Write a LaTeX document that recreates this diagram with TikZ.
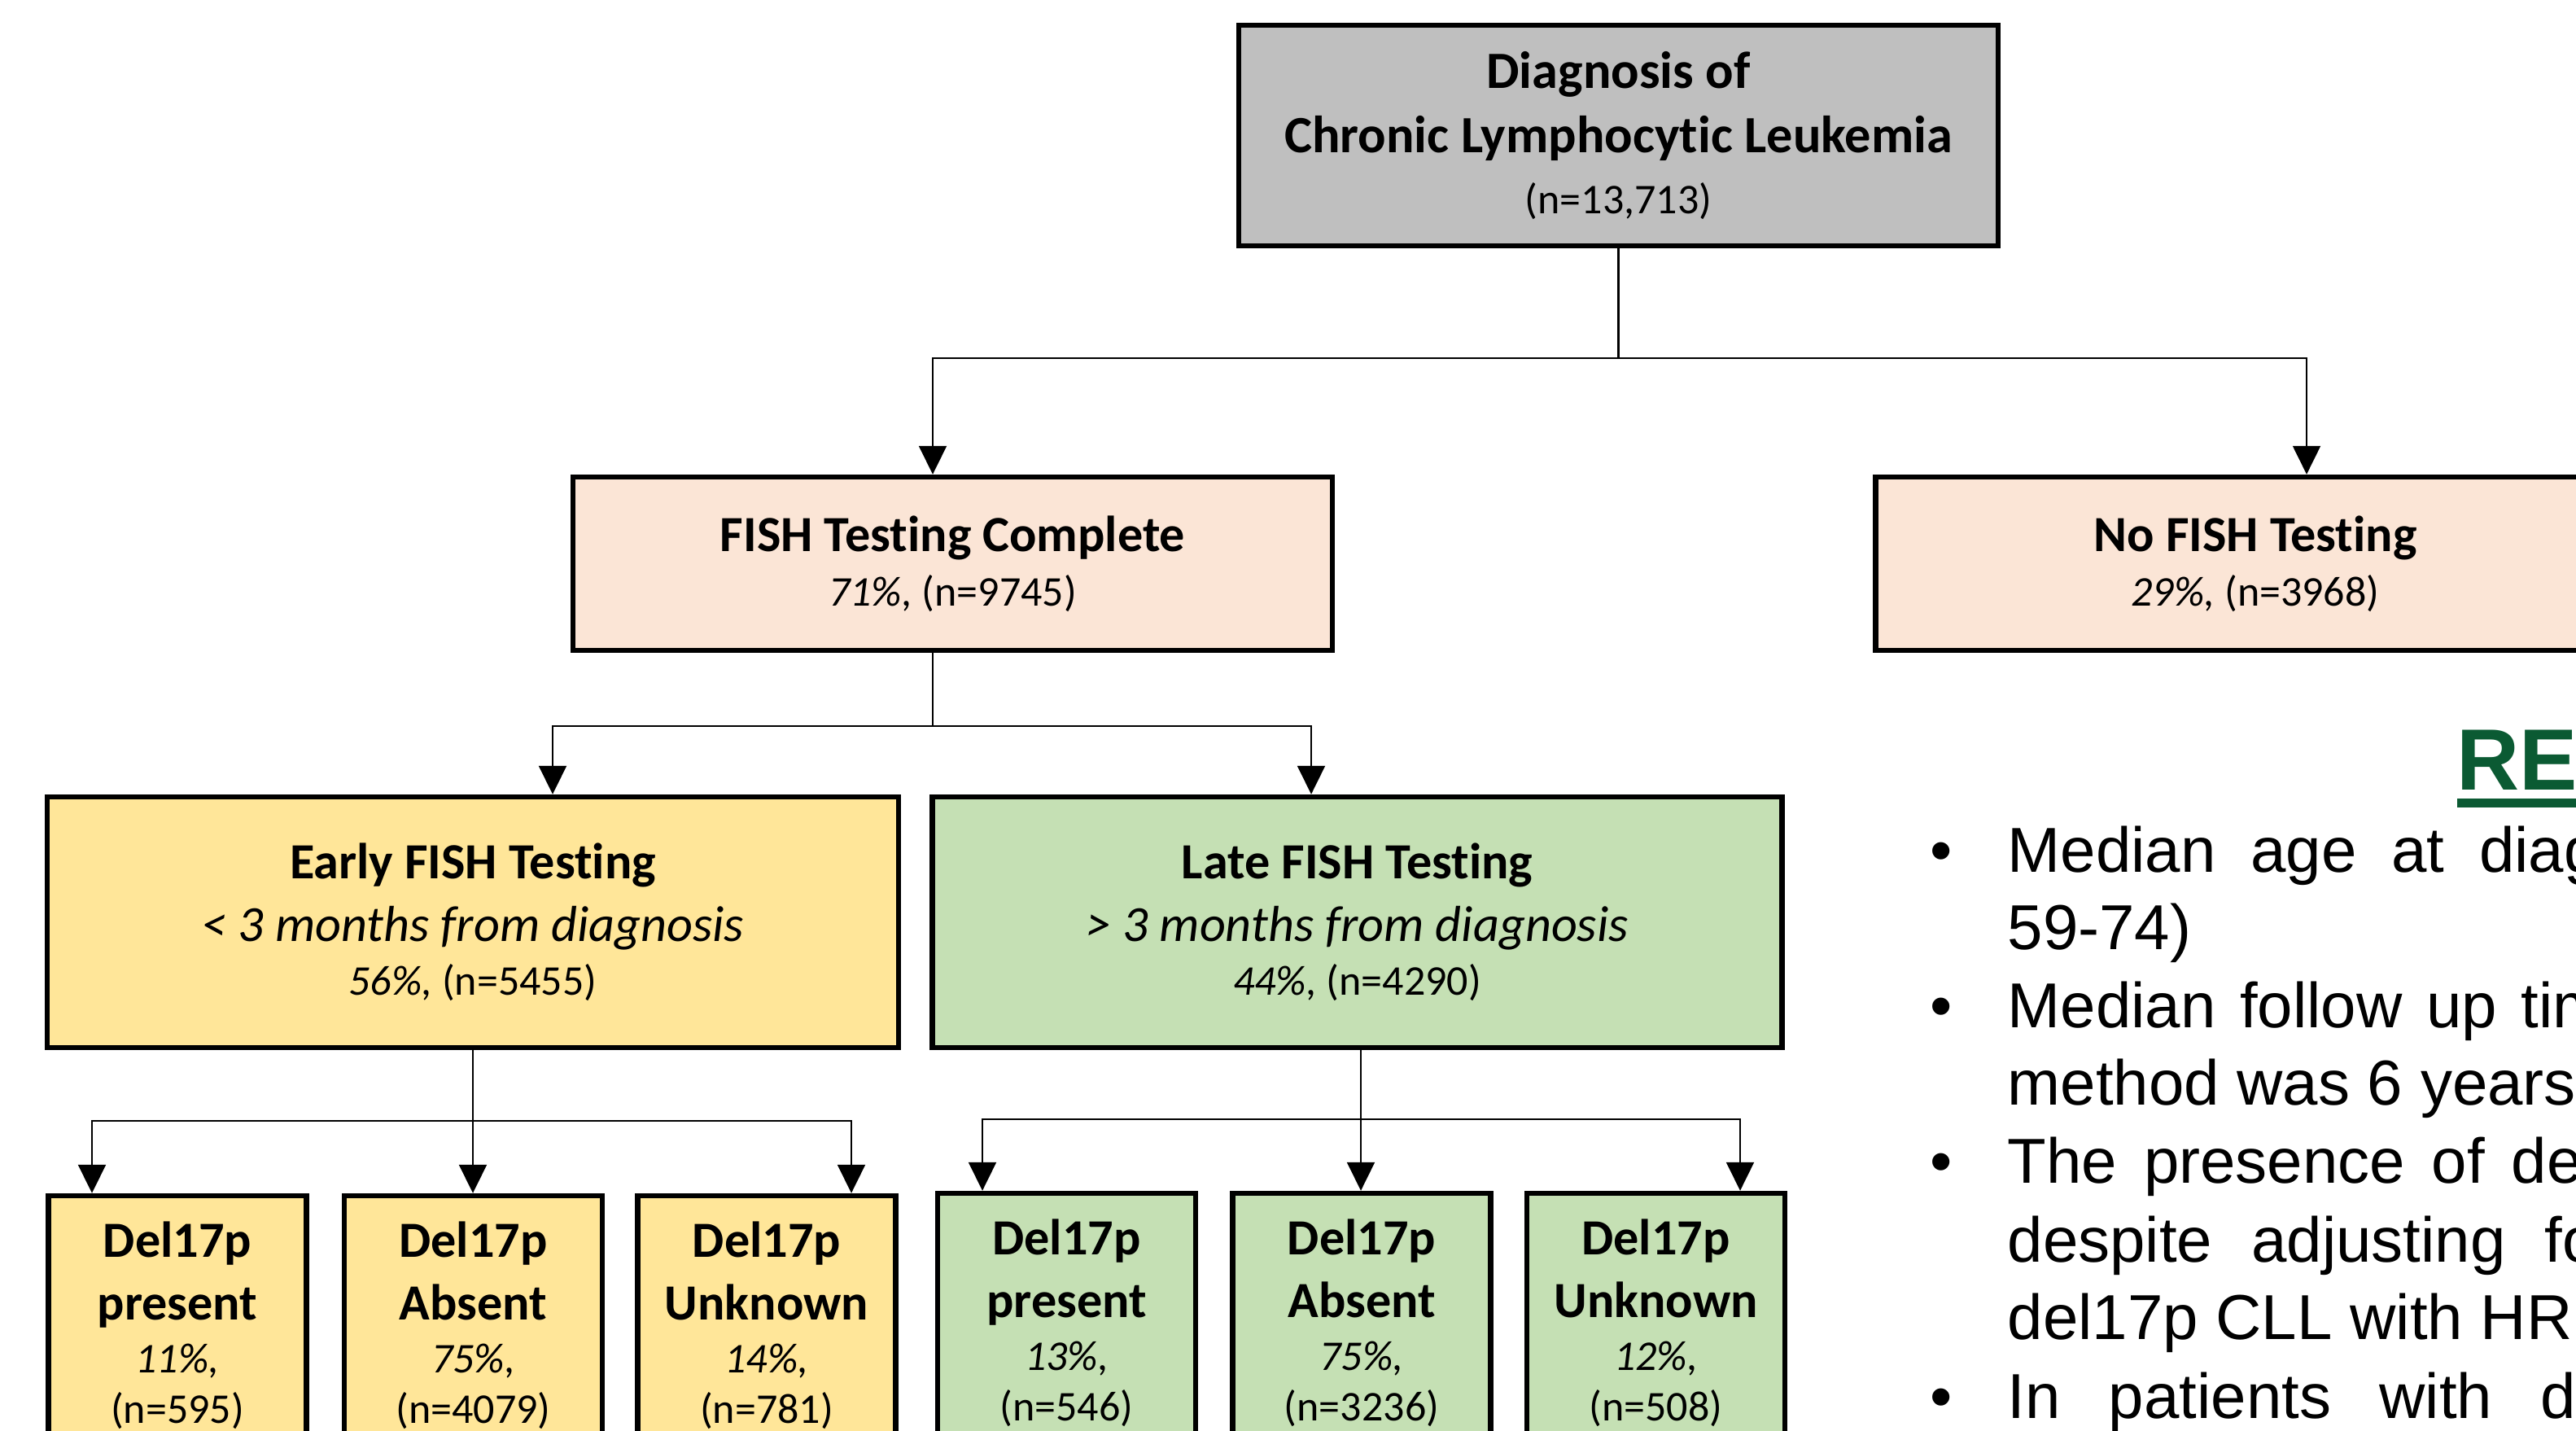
\documentclass[tikz,border=0pt]{standalone}
\usepackage{fontspec}
\setmainfont{Carlito}[Ligatures=NoCommon]
\newfontfamily\arialfont{Liberation Sans}
\usepackage{tikz}
\usetikzlibrary{positioning,arrows.meta}
\definecolor{greybox}{HTML}{BFBFBF}
\definecolor{peach}{HTML}{FBE5D6}
\definecolor{earlyfill}{HTML}{FFE699}
\definecolor{latefill}{HTML}{C5E0B4}
\definecolor{resgreen}{HTML}{0B5A33}
\newcommand{\hdsize}{\fontsize{17.7pt}{21.9pt}\selectfont}
\newcommand{\topsize}{\fontsize{18.3pt}{22.6pt}\selectfont}
\newcommand{\smsize}{\fontsize{14.8pt}{17pt}\selectfont}

\begin{document}
\begin{tikzpicture}[
    box/.style={rectangle, draw=black, line width=0.065cm, inner sep=0pt, align=center, font=\hdsize},
    delbox/.style={box, minimum width=3.17cm, minimum height=3.18cm},
    conn/.style={line width=0.6pt, black},
    arrow/.style={conn, -{Triangle[length=0.35cm, width=0.34cm]}},
    bodytext/.style={anchor=base west, inner sep=0pt, font=\arialfont\fontsize{22.2pt}{26pt}\selectfont},
    dot/.style={anchor=base, inner sep=0pt, font=\arialfont\fontsize{22.2pt}{26pt}\selectfont}
]
\useasboundingbox (0,0) rectangle (31.65,-17.57);
\clip (0,0) rectangle (31.65,-17.57);

% Top level
\node[box, font=\topsize, fill=greybox, minimum width=9.33cm, minimum height=2.71cm] (dx) at (19.885,-1.665)
    {\textbf{Diagnosis of}\\ \textbf{Chronic Lymphocytic Leukemia}\\[-0.05cm] {\smsize (n=13,713)}};

% FISH done or not
\node[box, fill=peach, minimum width=9.33cm, minimum height=2.13cm] (fishyes) at (11.705,-6.925)
    {\textbf{FISH Testing Complete}\\[-0.10cm] {\smsize\textit{71\%,} (n=9745)}};
\node[box, fill=peach, minimum width=9.33cm, minimum height=2.13cm, right=6.61cm of fishyes] (fishno)
    {\textbf{No FISH Testing}\\[-0.10cm] {\smsize\textit{29\%,} (n=3968)}};

% Timing of FISH
\node[box, fill=earlyfill, minimum width=10.46cm, minimum height=3.08cm] (early) at (5.81,-11.33)
    {\textbf{Early FISH Testing}\\ \textit{< 3 months from diagnosis}\\[-0.11cm] {\smsize\textit{56\%,} (n=5455)}};
\node[box, fill=latefill, minimum width=10.44cm, minimum height=3.08cm, right=0.35cm of early] (late)
    {\textbf{Late FISH Testing}\\ \textit{> 3 months from diagnosis}\\[-0.11cm] {\smsize\textit{44\%,} (n=4290)}};

% Del17p, early
\node[delbox, fill=earlyfill] (pres1) at (2.18,-16.28)
    {\textbf{Del17p}\\ \textbf{present}\\[-0.12cm] {\smsize\textit{11\%,}}\\[-0.15cm] {\smsize (n=595)}};
\node[delbox, fill=earlyfill, right=0.40cm of pres1] (abs1)
    {\textbf{Del17p}\\ \textbf{Absent}\\[-0.12cm] {\smsize\textit{75\%,}}\\[-0.15cm] {\smsize (n=4079)}};
\node[delbox, fill=earlyfill, right=0.37cm of abs1] (unk1)
    {\textbf{Del17p}\\ \textbf{Unknown}\\[-0.12cm] {\smsize\textit{14\%,}}\\[-0.15cm] {\smsize (n=781)}};

% Del17p, late
\node[delbox, fill=latefill] (pres2) at (13.105,-16.25)
    {\textbf{Del17p}\\ \textbf{present}\\[-0.12cm] {\smsize\textit{13\%,}}\\[-0.15cm] {\smsize (n=546)}};
\node[delbox, fill=latefill, right=0.39cm of pres2] (abs2)
    {\textbf{Del17p}\\ \textbf{Absent}\\[-0.12cm] {\smsize\textit{75\%,}}\\[-0.15cm] {\smsize (n=3236)}};
\node[delbox, fill=latefill, right=0.38cm of abs2] (unk2)
    {\textbf{Del17p}\\ \textbf{Unknown}\\[-0.12cm] {\smsize\textit{12\%,}}\\[-0.15cm] {\smsize (n=508)}};

% Branch points
\coordinate (b1) at (11.46,-4.40);
\coordinate (b2) at (28.34,-4.40);
\coordinate (c1) at (6.79,-8.92);
\coordinate (c2) at (16.11,-8.92);
\coordinate (d1) at (1.13,-13.77);
\coordinate (d3) at (10.46,-13.77);
\coordinate (e1) at (12.07,-13.75);
\coordinate (e2) at (16.72,-13.75);
\coordinate (e3) at (21.38,-13.75);

% Arrows
\draw[arrow] (dx.south) |- (b1) -- (b1 |- fishyes.north);
\draw[arrow] (dx.south) |- (b2) -- (b2 |- fishno.north);
\draw[arrow] (fishyes.south -| b1) |- (c1) -- (c1 |- early.north);
\draw[arrow] (fishyes.south -| b1) |- (c2) -- (c2 |- late.north);
\draw[arrow] (early.south) |- (d1) -- (d1 |- pres1.north);
\draw[arrow] (early.south) -- (early.south |- abs1.north);
\draw[arrow] (early.south) |- (d3) -- (d3 |- unk1.north);
\draw[arrow] (late.south -| e2) |- (e1) -- (e1 |- pres2.north);
\draw[arrow] (late.south -| e2) -- (e2 |- abs2.north);
\draw[arrow] (late.south -| e2) |- (e3) -- (e3 |- unk2.north);

% Results column
\node[anchor=base west, inner sep=0pt, text=resgreen, font=\arialfont\bfseries\fontsize{30.4pt}{36pt}\selectfont] (res) at (30.18,-9.70) {RE};
\fill[resgreen] (30.19,-9.81) rectangle (31.70,-9.92);

\node[dot] (b1dot) at (23.85,-10.71) {•};
\node[dot] (b2dot) at (23.85,-12.62) {•};
\node[dot] (b3dot) at (23.85,-14.53) {•};
\node[dot] (b4dot) at (23.85,-17.42) {•};

\node[bodytext] (l1) at (24.66,-10.71) {\makebox[7.27cm][s]{Median age at diag}};
\node[bodytext] (l2) at (24.66,-11.66) {59-74)};
\node[bodytext] (l3) at (24.66,-12.62) {\makebox[7.35cm][s]{Median follow up tim}};
\node[bodytext] (l4) at (24.66,-13.57) {method was 6 years};
\node[bodytext] (l5) at (24.66,-14.53) {\makebox[7.06cm][s]{The presence of de}};
\node[bodytext] (l6) at (24.66,-15.50) {\makebox[7.25cm][s]{despite adjusting fo}};
\node[bodytext] (l7) at (24.66,-16.45) {del17p CLL with HR};
\node[bodytext] (l8) at (24.66,-17.42) {\makebox[6.98cm][s]{In patients with d}};
\end{tikzpicture}
\end{document}
